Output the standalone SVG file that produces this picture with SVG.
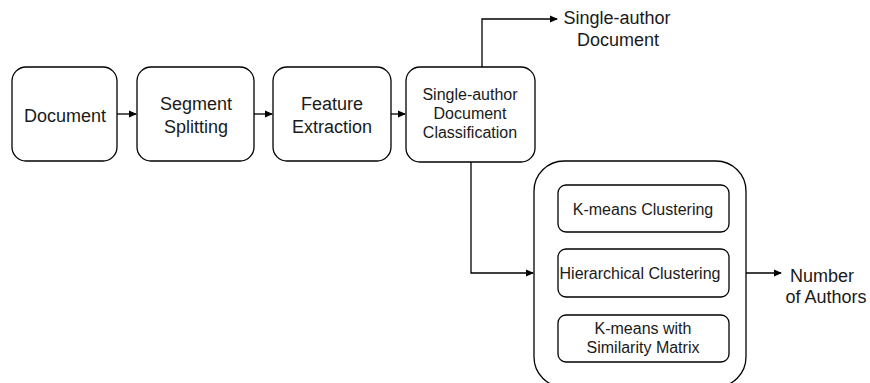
<svg xmlns="http://www.w3.org/2000/svg" width="870" height="383" viewBox="0 0 870 383">
<style>
.box{fill:#fff;stroke:#000;stroke-width:1.3}
.t{font-family:"Liberation Sans",Arial,sans-serif;font-size:18px;fill:#1a1a1a;text-anchor:middle}
.s{font-size:16px}
.c{fill:none;stroke:#000;stroke-width:1.3}
</style>
<defs>
<marker id="ah" markerWidth="8" markerHeight="8" refX="7" refY="4" orient="auto" markerUnits="userSpaceOnUse">
<path d="M0,0.5 L8,4 L0,7.5 Z" fill="#000"/>
</marker>
</defs>
<g id="connectors">
<path class="c" d="M117,114 H136" marker-end="url(#ah)"/>
<path class="c" d="M254,114 H272" marker-end="url(#ah)"/>
<path class="c" d="M391,114 H405" marker-end="url(#ah)"/>
<path class="c" d="M482,67 V19 H557" marker-end="url(#ah)"/>
<path class="c" d="M471,162 V273 H533" marker-end="url(#ah)"/>
<path class="c" d="M746,273 H781" marker-end="url(#ah)"/>
</g>
<g id="n-document">
<rect class="box" x="12" y="67" width="105" height="94" rx="14"/>
<text class="t" x="65" y="122">Document</text>
</g>
<g id="n-segment">
<rect class="box" x="137" y="67" width="117" height="94" rx="14"/>
<text class="t" x="196" y="110">Segment</text>
<text class="t" x="196" y="133">Splitting</text>
</g>
<g id="n-feature">
<rect class="box" x="273" y="67" width="118" height="94" rx="14"/>
<text class="t" x="332" y="110">Feature</text>
<text class="t" x="332" y="133">Extraction</text>
</g>
<g id="n-classification">
<rect class="box" x="406" y="67" width="129" height="95" rx="14"/>
<text class="t s" x="470" y="100">Single-author</text>
<text class="t s" x="470" y="119">Document</text>
<text class="t s" x="470" y="138">Classification</text>
</g>
<g id="n-single-output">
<text class="t" x="617" y="24">Single-author</text>
<text class="t" x="618" y="46">Document</text>
</g>
<g id="n-clustering">
<rect class="box" x="534" y="161" width="212" height="226" rx="30"/>
</g>
<g id="n-kmeans">
<rect class="box" x="558" y="185" width="171" height="47" rx="8"/>
<text class="t s" x="643" y="215">K-means Clustering</text>
</g>
<g id="n-hierarchical">
<rect class="box" x="558" y="249" width="171" height="48" rx="8"/>
<text class="t s" x="640" y="279">Hierarchical Clustering</text>
</g>
<g id="n-kmeans-sim">
<rect class="box" x="558" y="315" width="171" height="47" rx="8"/>
<text class="t s" x="643" y="334">K-means with</text>
<text class="t s" x="643" y="353">Similarity Matrix</text>
</g>
<g id="n-number">
<text class="t" x="822" y="282">Number</text>
<text class="t" x="826" y="303">of Authors</text>
</g>
</svg>
